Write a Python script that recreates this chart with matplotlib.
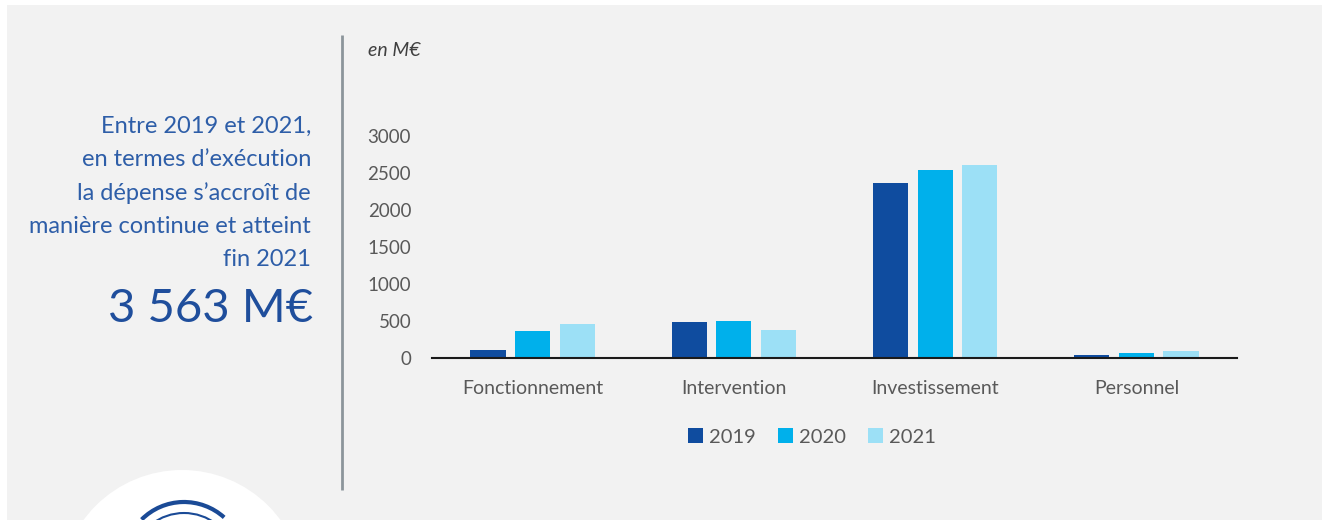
import matplotlib.pyplot as plt
from matplotlib.patches import Rectangle, Circle, Arc, Patch
import numpy as np

plt.rcParams['font.family'] = ['Lato', 'DejaVu Sans']

categories = ['Fonctionnement', 'Intervention', 'Investissement', 'Personnel']
years = ['2019', '2020', '2021']
depenses = {
    '2019': [108, 485, 2361, 41],
    '2020': [366, 506, 2537, 68],
    '2021': [465, 380, 2614, 95],
}
colors = ['#0f4c9f', '#00b0eb', '#9ce0f6']
yticks = [0, 500, 1000, 1500, 2000, 2500, 3000]

total_2021 = '3 563 M€'
texte = ['Entre 2019 et 2021,', 'en termes d\u2019exécution',
         'la dépense s\u2019accroît de', 'manière continue et atteint', 'fin 2021']

W, H = 1325, 520
fig = plt.figure(figsize=(W / 100, H / 100), dpi=100, facecolor='white')

# background layer in pixel coordinates
bg = fig.add_axes([0, 0, 1, 1])
bg.set_xlim(0, W)
bg.set_ylim(H, 0)
bg.axis('off')
bg.add_patch(Rectangle((7, 5), 1315, 520, facecolor='#f2f2f2', edgecolor='none'))
bg.plot([342, 342], [35, 490], color='#8c959b', lw=2, solid_capstyle='butt')

# logo
bg.add_patch(Circle((182, 592), 122, facecolor='white', edgecolor='none'))
bg.add_patch(Arc((184, 562), 120, 120, angle=0, theta1=225, theta2=312,
                 color='#1a4a96', lw=3))
bg.add_patch(Arc((184, 566), 106, 106, angle=0, theta1=232, theta2=308,
                 color='#1a4a96', lw=1.5))

for i, line in enumerate(texte):
    bg.text(311, 126 + i * 33.5, line, ha='right', va='center',
            fontsize=17, color='#2e5ea8')
bg.text(313, 309, total_2021, ha='right', va='center', fontsize=34, color='#1f4e9c')
bg.text(368, 50, 'en M€', ha='left', va='center', fontsize=14,
        style='italic', color='#404040')

# bar chart
ax = fig.add_axes([432 / W, (H - 358) / H, 805 / W, 222 / H])
ax.set_facecolor('none')
x = np.arange(len(categories))
width = 0.175
step = 0.222
for k, (year, c) in enumerate(zip(years, colors)):
    ax.bar(x + (k - 1) * step, depenses[year], width=width, color=c,
           label=year, zorder=2)

ax.set_xlim(-0.5, len(categories) - 0.5)
ax.set_ylim(0, 3000)
ax.set_yticks(yticks)
ax.set_yticklabels([str(v) for v in yticks])
ax.set_xticks(x)
ax.set_xticklabels(categories)
ax.tick_params(axis='y', length=0, pad=15, labelsize=13.5, labelcolor='#595959')
ax.tick_params(axis='x', length=0, pad=16, labelsize=14, labelcolor='#595959')
for s in ['top', 'right', 'left']:
    ax.spines[s].set_visible(False)
ax.spines['bottom'].set_color('#1a1a1a')
ax.spines['bottom'].set_linewidth(1.5)

handles = [Patch(facecolor=c, edgecolor='none') for c in colors]
leg = fig.legend(handles, years, loc='center', bbox_to_anchor=(812 / W, (H - 437) / H),
                 ncol=3, frameon=False, fontsize=14.5, handlelength=0.75, handleheight=0.75,
                 handletextpad=0.3, columnspacing=1.1)
for t in leg.get_texts():
    t.set_color('#595959')

fig.savefig('out.png', dpi=100, facecolor='white')
